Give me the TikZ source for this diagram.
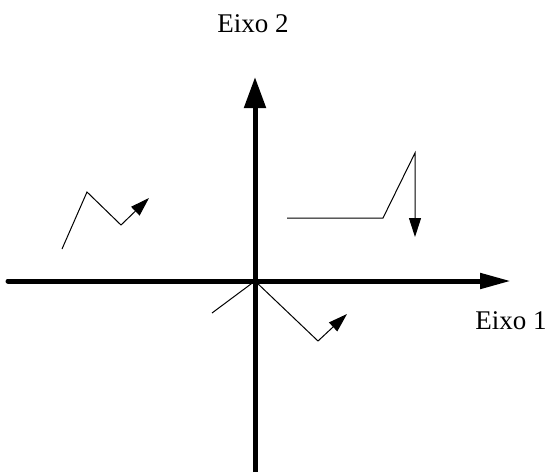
\documentclass[tikz,border=0pt]{standalone}
\usepackage{fontspec}
\setmainfont{Liberation Serif}
\usetikzlibrary{arrows.meta}
\tikzset{
  eixo/.style={line width=5pt,line cap=round},
  traj/.style={line width=1pt,-{Triangle[length=19pt,width=12pt]}}
}

\begin{document}
\begin{tikzpicture}[x=1pt,y=-1pt,font=\fontsize{27}{32}\selectfont]
\useasboundingbox (0,0) rectangle (547,472);
\coordinate (O) at (255,281);
% eixos
\draw[eixo,-{Triangle[length=31pt,width=15pt]}] (8,281)--(511,281);
\draw[eixo,line cap=butt,-{Triangle[length=31pt,width=21pt]}] (255,472)--(255,77);
\node (e2) at (253,24) {Eixo 2};
\node (e1) at (511,321) {Eixo 1};
% trajetorias
\draw[traj] (62,249)--(87,192)--(121,225)--(149,198);
\draw[traj] (287,218)--(383,218)--(415,153)--(415,237);
\draw[traj] (212,313)--(O)--(318,341)--(347,314);
\end{tikzpicture}
\end{document}
